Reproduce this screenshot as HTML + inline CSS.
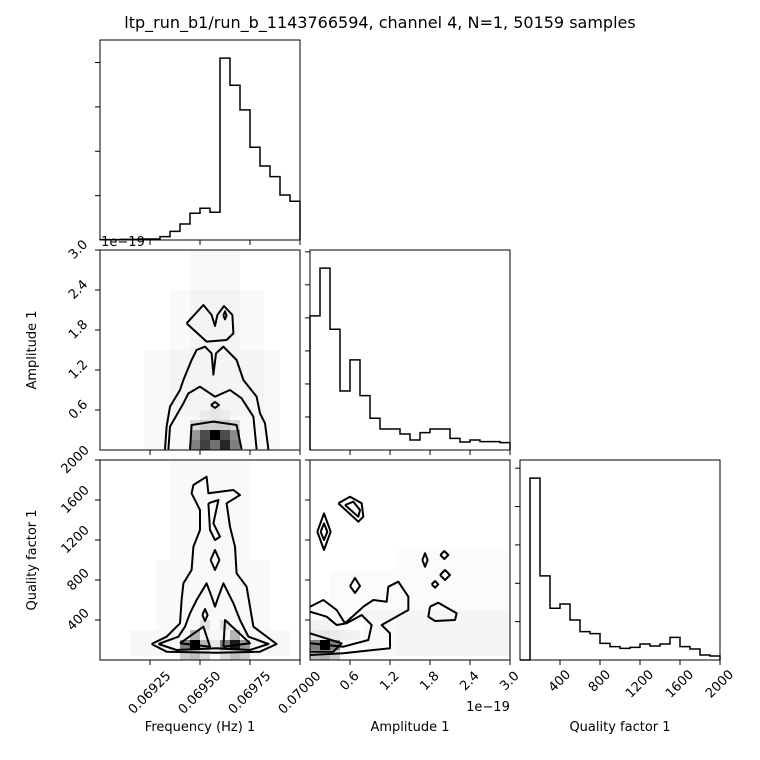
<!DOCTYPE html>
<html><head><meta charset="utf-8"><style>
html,body{margin:0;padding:0;background:#fff}
svg{display:block;font-family:"DejaVu Sans","Liberation Sans",sans-serif}
</style></head><body>
<svg id="c" width="760" height="760" viewBox="0 0 760 760">
<text x="380" y="28" text-anchor="middle" font-size="16">ltp_run_b1/run_b_1143766594, channel 4, N=1, 50159 samples</text>
</svg>
<script>
// ---------- data ----------
const freqHist=[1,1,2,2,3,3,10,26,48,80,95,83,545,464,390,278,222,190,135,116];
const ampHist=[402,545,362,177,270,163,95,63,63,48,30,52,63,63,35,24,30,25,25,22];
const qHist=[0,545,252,155,168,120,85,79,50,40,35,38,48,42,48,68,40,33,15,12];
const freqHistTicks=[133,266,399,532];
const ampHistTicks=[99,198,297,396,495,594];
const qHistTicks=[115,230,345,460,575];
const freqTicks=[0.06925,0.06950,0.06975,0.07000];
const freqTickLabels=["0.06925","0.06950","0.06975","0.07000"];
const ampTicks=[0.6,1.2,1.8,2.4,3.0];
const ampTickLabels=["0.6","1.2","1.8","2.4","3.0"];
const qTicks=[400,800,1200,1600,2000];
const qTickLabels=["400","800","1200","1600","2000"];
// density cells [x-center, y-center, darkness]
const faCellsX=[0.069475,0.069525,0.069575,0.069625,0.069675,0.069475,0.069525,0.069575,0.069625,0.069675,0.069475,0.069525,0.069575,0.069625,0.069675,0.069525,0.069575,0.069625,0.069575];
const faCellsY=[0.075,0.075,0.075,0.075,0.075,0.225,0.225,0.225,0.225,0.225,0.375,0.375,0.375,0.375,0.375,0.525,0.525,0.525,0.675];
const faCellsV=[0.5,0.75,0.55,0.85,0.5,0.4,0.7,1.0,0.7,0.45,0.15,0.2,0.2,0.2,0.15,0.08,0.1,0.08,0.1];
const fqCellsX=[0.069425,0.069475,0.069525,0.069575,0.069625,0.069675,0.069725,0.069425,0.069475,0.069525,0.069625,0.069675,0.069725,0.069475,0.069675,0.069525,0.069625];
const fqCellsY=[150,150,150,150,150,150,150,50,50,50,50,50,50,250,250,350,350];
const fqCellsV=[0.5,1.0,0.3,0.1,0.5,0.9,0.4,0.2,0.25,0.15,0.15,0.25,0.2,0.3,0.3,0.12,0.12];
const aqCellsX=[0.075,0.225,0.375,0.075,0.225,0.375,0.075,0.225,0.375,0.525,0.675,0.075,0.225,0.375];
const aqCellsY=[150,150,150,50,50,50,250,250,250,250,250,350,350,350];
const aqCellsV=[0.5,1.0,0.5,0.25,0.3,0.2,0.08,0.1,0.08,0.06,0.05,0.05,0.05,0.04];
// scatter haze regions [xmin,xmax,ymin,ymax,darkness]
const faHazeX0=[0.06922,0.06935,0.06945];
const faHazeX1=[0.06990,0.06982,0.06970];
const faHazeY0=[0,0.5,1.5];
const faHazeY1=[1.5,2.4,3.0];
const faHazeV=[0.025,0.02,0.025];
const fqHazeX0=[0.06915,0.06928,0.06935];
const fqHazeX1=[0.06995,0.06985,0.06975];
const fqHazeY0=[40,300,1000];
const fqHazeY1=[300,1000,2000];
const fqHazeV=[0.03,0.025,0.025];
const aqHazeX0=[0.8,1.3,0.3];
const aqHazeX1=[3.0,3.0,1.3];
const aqHazeY0=[40,40,400];
const aqHazeY1=[500,1100,900];
const aqHazeV=[0.025,0.015,0.015];
// contours [x,y] in data units
const faContours=[
 [[0.069325,0.01],[0.069333,0.35],[0.06935,0.65],[0.0694,0.9],[0.069417,1.05],[0.069458,1.35],[0.069483,1.5],[0.069525,1.55],[0.069558,1.45],[0.069567,1.13],[0.06958,1.45],[0.069617,1.55],[0.069683,1.35],[0.069717,1.05],[0.069783,0.8],[0.0698,0.55],[0.069825,0.4],[0.069842,0.01]],
 [[0.069433,1.9],[0.069517,2.175],[0.069558,2.025],[0.069575,1.86],[0.069587,2.025],[0.06962,2.16],[0.069662,2.025],[0.069667,1.75],[0.069633,1.65],[0.069533,1.625],[0.069433,1.9]],
 [[0.069342,0.01],[0.06935,0.35],[0.069417,0.7],[0.069442,0.85],[0.0695,0.95],[0.069575,0.8],[0.06965,0.9],[0.069708,0.775],[0.069767,0.5],[0.069783,0.01]],
 [[0.06945,0.01],[0.069458,0.375],[0.069567,0.425],[0.069683,0.375],[0.069708,0.01]],
 [[0.069555,0.675],[0.069575,0.72],[0.069595,0.675],[0.069575,0.63],[0.069555,0.675]],
 [[0.069617,2.02],[0.069625,2.08],[0.069633,2.02],[0.069625,1.96],[0.069617,2.02]]
];
const fqContours=[
 [[0.069258,160],[0.069333,233],[0.0694,367],[0.069408,600],[0.069417,767],[0.069458,900],[0.069467,1133],[0.0695,1300],[0.0695,1500],[0.069458,1667],[0.069467,1750],[0.069533,1833],[0.069542,1667],[0.069667,1700],[0.0697,1650],[0.069633,1567],[0.06965,1333],[0.069675,1133],[0.069683,867],[0.069733,733],[0.06975,533],[0.069767,333],[0.069883,160],[0.0698,83],[0.069583,73],[0.069333,83],[0.069258,160]],
 [[0.069292,160],[0.069392,233],[0.069425,333],[0.06945,467],[0.069483,600],[0.069533,767],[0.069558,633],[0.069575,533],[0.069592,633],[0.069617,767],[0.069667,567],[0.0697,400],[0.069742,233],[0.069842,160],[0.06975,100],[0.069583,117],[0.069383,100],[0.069292,160]],
 [[0.0694,167],[0.069517,333],[0.06955,133],[0.0694,167]],
 [[0.069617,133],[0.069625,400],[0.06975,167],[0.069617,133]],
 [[0.069542,1567],[0.069592,1600],[0.069567,1367],[0.0696,1233],[0.069575,1200],[0.06955,1300],[0.069542,1567]],
 [[0.069553,1000],[0.069575,1100],[0.069597,1000],[0.069575,900],[0.069553,1000]],
 [[0.069512,450],[0.069525,510],[0.069538,450],[0.069525,390],[0.069512,450]]
];
const aqContours=[
 [[0,533],[0.2,600],[0.4,500],[0.525,367],[0.8,533],[0.95,600],[1.15,583],[1.175,733],[1.325,783],[1.475,633],[1.475,500],[1.075,350],[1.2,267],[1.2,117],[0.95,100],[0.5,67],[0,50]],
 [[0,483],[0.25,433],[0.4,350],[0.55,367],[0.775,450],[0.925,350],[0.875,200],[0.5,133],[0,167]],
 [[0,267],[0.475,167],[0.35,83],[0,83]],
 [[0.425,1567],[0.6,1633],[0.775,1567],[0.8,1433],[0.725,1383],[0.425,1567]],
 [[0.525,1550],[0.65,1583],[0.75,1500],[0.725,1433],[0.525,1550]],
 [[0.11,1283],[0.21,1466],[0.31,1283],[0.21,1100],[0.11,1283]],
 [[0.16,1283],[0.21,1366],[0.26,1283],[0.21,1200],[0.16,1283]],
 [[0.6,740],[0.675,820],[0.75,740],[0.675,670],[0.6,740]],
 [[1.685,1000],[1.725,1067],[1.765,1000],[1.725,933],[1.685,1000]],
 [[1.955,1050],[2.015,1090],[2.075,1050],[2.015,1010],[1.955,1050]],
 [[1.95,850],[2.025,900],[2.1,850],[2.025,800],[1.95,850]],
 [[1.825,757],[1.875,790],[1.925,757],[1.875,723],[1.825,757]],
 [[1.8,533],[1.925,573],[2.2,467],[2.175,400],[1.875,390],[1.775,433],[1.8,533]]
];
// ---------- drawing ----------
const svg=document.getElementById('c');
const NS='http://www.w3.org/2000/svg';
function mk(tag,attrs,parent){const e=document.createElementNS(NS,tag);for(const k in attrs)e.setAttribute(k,attrs[k]);(parent||svg).appendChild(e);return e;}
function lin(d0,d1,p0,p1){return v=>p0+(v-d0)/(d1-d0)*(p1-p0);}
const FX={x0:100,x1:300},AX={x0:310,x1:510},QX={x0:520,x1:720};
const R0={y0:40,y1:240},R1={y0:250,y1:450},R2={y0:460,y1:660};
const fx=lin(0.069,0.070,100,300), ax=lin(0,3,310,510), qx=lin(0,2000,520,720);
const ay=lin(0,3,450,250), qy=lin(0,2000,660,460);

function frame(x0,y0,x1,y1,name){
  const r=mk('rect',{x:x0,y:y0,width:x1-x0,height:y1-y0,fill:'none',stroke:'#000','stroke-width':1});
  
  
}
function xticks(vals,sx,y,labels,name){
  const g=mk('g',{});
  
  
  vals.forEach((v,i)=>{
    const x=sx(v);
    mk('line',{x1:x,y1:y,x2:x,y2:y+5,stroke:'#000','stroke-width':1},g);
    if(labels){
      const w=labels[i].length*8.3,b=(w+13)*0.707;
      const cy=y+8+b/2;
      const t=mk('text',{x:x,y:cy,'text-anchor':'middle','dominant-baseline':'central','font-size':13,transform:`rotate(-45 ${x} ${cy})`},g);
      t.textContent=labels[i];
    }
  });
}
function yticks(vals,sy,x,labels,name){
  const g=mk('g',{});
  
  
  vals.forEach((v,i)=>{
    const y=sy(v);
    mk('line',{x1:x-5,y1:y,x2:x,y2:y,stroke:'#000','stroke-width':1},g);
    if(labels){
      const w=labels[i].length*8.3,b=(w+13)*0.707;
      const cx=x-8-b/2;
      const t=mk('text',{x:cx,y:y,'text-anchor':'middle','dominant-baseline':'central','font-size':13,transform:`rotate(-45 ${cx} ${y})`},g);
      t.textContent=labels[i];
    }
  });
}
function hist(vals,X,R,ticks,name){
  const n=vals.length,max=Math.max(...vals)*1.1;
  const sx=lin(0,n,X.x0,X.x1), sy=lin(0,max,R.y1,R.y0);
  let d=`M${sx(0)},${sy(0)}`;
  vals.forEach((v,i)=>{d+=` L${sx(i)},${sy(v)} L${sx(i+1)},${sy(v)}`;});
  d+=` L${sx(n)},${sy(0)}`;
  const p=mk('path',{d:d,fill:'none',stroke:'#000','stroke-width':1.5});
  
  
  yticks(ticks.filter(t=>t<=max),sy,X.x0,null,name+'-y-ticks');
}
function gray(v){const c=Math.round(255*(1-v));return `rgb(${c},${c},${c})`;}
function haze(x0s,x1s,y0s,y1s,vs,sx,sy,parent){
  x0s.forEach((xv,i)=>{
    const r=mk('rect',{x:sx(xv),y:sy(y1s[i]),width:sx(x1s[i])-sx(xv),height:sy(y0s[i])-sy(y1s[i]),fill:gray(vs[i]),style:'mix-blend-mode:multiply'},parent);
    
    
  });
}
function cells(xs,ys,vs,sx,sy,w,h,parent){
  xs.forEach((xv,i)=>{
    const x0=sx(xv-w/2),x1=sx(xv+w/2),y0=sy(ys[i]+h/2),y1=sy(ys[i]-h/2);
    const r=mk('rect',{x:x0,y:y0,width:x1-x0,height:y1-y0,fill:gray(vs[i])},parent);
    
    
  });
}
function contours(list,sx,sy,parent){
  list.forEach(pts=>{
    const p=mk('polyline',{points:pts.map(q=>sx(q[0])+','+sy(q[1])).join(' '),fill:'none',stroke:'#000','stroke-width':2,'stroke-linejoin':'round'},parent);
    
    
  });
}
const defs=mk('defs',{});
[['cFA',FX,R1],['cFQ',FX,R2],['cAQ',AX,R2]].forEach(([id,X,R])=>{
  const cp=mk('clipPath',{id:id},defs);
  mk('rect',{x:X.x0,y:R.y0,width:X.x1-X.x0,height:R.y1-R.y0},cp);
});
const gFA=mk('g',{'clip-path':'url(#cFA)'});


haze(faHazeX0,faHazeX1,faHazeY0,faHazeY1,faHazeV,fx,ay,gFA);
cells(faCellsX,faCellsY,faCellsV,fx,ay,0.00005,0.15,gFA);
contours(faContours,fx,ay,gFA);

const gFQ=mk('g',{'clip-path':'url(#cFQ)'});


haze(fqHazeX0,fqHazeX1,fqHazeY0,fqHazeY1,fqHazeV,fx,qy,gFQ);
cells(fqCellsX,fqCellsY,fqCellsV,fx,qy,0.00005,100,gFQ);
contours(fqContours,fx,qy,gFQ);

const gAQ=mk('g',{'clip-path':'url(#cAQ)'});


haze(aqHazeX0,aqHazeX1,aqHazeY0,aqHazeY1,aqHazeV,ax,qy,gAQ);
cells(aqCellsX,aqCellsY,aqCellsV,ax,qy,0.15,100,gAQ);
contours(aqContours,ax,qy,gAQ);

hist(freqHist,FX,R0,freqHistTicks,'freq-histogram');
hist(ampHist,AX,R1,ampHistTicks,'amp-histogram');
hist(qHist,QX,R2,qHistTicks,'q-histogram');

frame(100,40,300,240,'freq-hist-frame');
frame(100,250,300,450,'freq-amp-frame');
frame(310,250,510,450,'amp-hist-frame');
frame(100,460,300,660,'freq-q-frame');
frame(310,460,510,660,'amp-q-frame');
frame(520,460,720,660,'q-hist-frame');

xticks(freqTicks,fx,240,null,'freq-hist-x-ticks');
xticks(freqTicks,fx,450,null,'freq-amp-x-ticks');
xticks(freqTicks,fx,660,freqTickLabels,'freq-x-axis');
xticks(ampTicks,ax,450,null,'amp-hist-x-ticks');
xticks(ampTicks,ax,660,ampTickLabels,'amp-x-axis');
xticks(qTicks,qx,660,qTickLabels,'q-x-axis');
yticks(ampTicks,ay,100,ampTickLabels,'amp-y-axis');
yticks(qTicks,qy,100,qTickLabels,'q-y-axis');
yticks(qTicks,qy,310,null,'amp-q-y-ticks');

function label(txt,x,y,rot,name,size){
  const t=mk('text',{x:x,y:y,'text-anchor':'middle','font-size':size||13});
  if(rot)t.setAttribute('transform',`rotate(-90 ${x} ${y})`);
  t.textContent=txt;
  
  
}
label('Frequency (Hz) 1',200,731,false,'freq-axis-title');
label('Amplitude 1',410,731,false,'amp-axis-title');
label('Quality factor 1',620,731,false,'q-axis-title');
label('Amplitude 1',36,350,true,'amp-y-axis-title');
label('Quality factor 1',36,560,true,'q-y-axis-title');
label('1e\u221219',123,246,false,'amp-y-offset-text');
label('1e\u221219',488,711,false,'amp-x-offset-text');
</script>
</body></html>
